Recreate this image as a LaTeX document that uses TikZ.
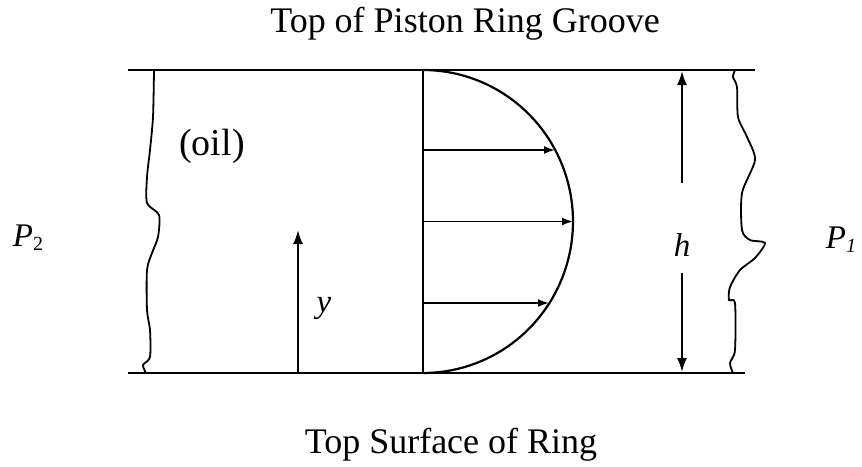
\documentclass[tikz,border=0pt]{standalone}
\usepackage{fontspec}
\setmainfont{Liberation Serif}
\usetikzlibrary{arrows.meta}
\begin{document}
\begin{tikzpicture}[x=1pt,y=-1pt,
  wall/.style={line width=2.2pt},
  bigarrow/.style={line width=2pt,-{Latex[length=14pt,width=10pt]}},
  profarrow/.style={line width=1.8pt,-{Latex[length=11pt,width=8pt]}},
  lbl/.style={inner sep=0pt,anchor=base,font=\fontsize{36}{42}\selectfont},
  mlbl/.style={inner sep=0pt,anchor=base,font=\fontsize{33}{38}\selectfont\itshape}]
\useasboundingbox (0,0) rectangle (862,466);
% titles
\node[lbl] (top) at (465,32) {Top of Piston Ring Groove};
\node[lbl] (bot) at (451,453) {Top Surface of Ring};
\node[lbl,font=\fontsize{38}{44}\selectfont] (oil) at (212,155) {(oil)};
\node[mlbl] (p2) at (28,246) {P\raisebox{-0.15em}{\upshape\fontsize{20}{20}\selectfont 2}};
\node[mlbl] (p1) at (841,248) {P\raisebox{-0.15em}{\fontsize{20}{20}\selectfont 1}};
\node[mlbl] (h) at (682,256) {h};
\node[mlbl] (y) at (324,312) {y};
% walls
\coordinate (TL) at (128,70);
\coordinate (TR) at (755,70);
\coordinate (BL) at (128,373);
\coordinate (BR) at (745,373);
\draw[wall] (TL) -- (TR);
\draw[wall] (BL) -- (BR);
% wavy ends
\draw[line width=1.8pt] plot[smooth,tension=0.45] coordinates {(154,71) (153,117) (150,150) (147,177) (147,203) (159,215) (158,237) (152,253) (147,270) (147,310) (150,330) (150,357) (143,365) (146,373)};
\draw[line width=1.8pt] plot[smooth,tension=0.45] coordinates {(735,70) (733,77) (737,87) (738,117) (747,137) (755,160) (742,193) (742,230) (750,240) (765,243) (755,258) (740,270) (730,287) (729,300) (735,303) (735,350) (730,363) (733,373)};
% velocity profile
\coordinate (ax0) at (423,70);
\coordinate (ax1) at (423,373);
\draw[wall] (ax0) -- (ax1);
\draw[wall] plot[domain=-90:90,samples=80] ({423+150*cos(\x)},{221.5+151.5*sin(\x)});
\coordinate (a1s) at (423,150);   \coordinate (a1e) at (555,150);
\coordinate (a2s) at (423,221.5); \coordinate (a2e) at (573,221.5);
\coordinate (a3s) at (423,303);   \coordinate (a3e) at (549,303);
\draw[profarrow] (a1s) -- (a1e);
\draw[profarrow] (a2s) -- (a2e);
\draw[profarrow] (a3s) -- (a3e);
% h dimension
\coordinate (h0) at (682,183);
\coordinate (h1) at (682,71);
\coordinate (h2) at (682,273);
\coordinate (h3) at (682,372);
\draw[bigarrow] (h0) -- (h1);
\draw[bigarrow] (h2) -- (h3);
% y arrow
\coordinate (y0) at (298,373);
\coordinate (y1) at (298,230);
\draw[bigarrow] (y0) -- (y1);
\end{tikzpicture}
\end{document}
